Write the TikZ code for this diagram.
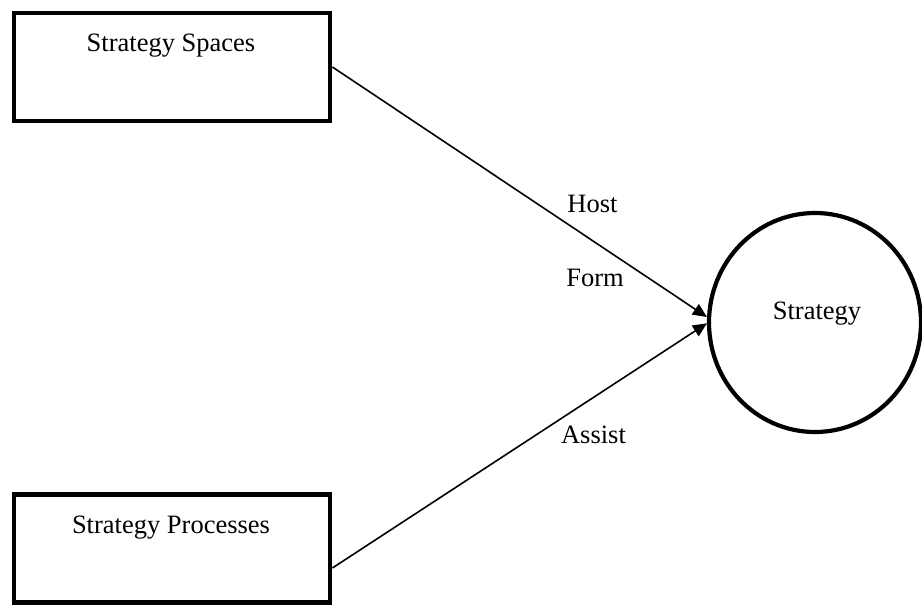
\documentclass[tikz,border=0pt]{standalone}
\usepackage{fontspec}
\setmainfont{Liberation Serif}
\usetikzlibrary{arrows.meta,calc,shapes.geometric}

\tikzset{
  boxnode/.style={draw, line width=4.8pt, rectangle, minimum width=316pt, minimum height=108pt, inner sep=0pt},
  hubnode/.style={draw, line width=4.2pt, ellipse, minimum width=212pt, minimum height=219pt, inner sep=0pt},
  caption/.style={anchor=base, inner sep=0pt, font=\fontsize{26.5}{31}\selectfont},
  link/.style={line width=1.6pt, -{Triangle[length=14pt,width=12.5pt]}}
}

\begin{document}
\begin{tikzpicture}[x=1pt, y=-1pt]
  \useasboundingbox (0,0) rectangle (922,605);

  % the two source boxes and the target circle
  \node[boxnode] (spaces) at (172,67) {};
  \node[boxnode] (processes) at (172,548.5) {};
  \node[hubnode] (strategy) at (815,322.5) {};

  % their titles
  \node[caption] (spacesTxt) at (171,51) {Strategy Spaces};
  \node[caption] (processesTxt) at (171,533) {Strategy Processes};
  \node[caption] (strategyTxt) at (817,319) {Strategy};

  % connectors
  \coordinate (procOut) at ($(processes.east)+(0,19.5)$);
  \coordinate (inTop) at ($(strategy.west)+(0,-5.5)$);
  \coordinate (inBot) at ($(strategy.west)+(0,0.8)$);
  \draw[link] (spaces.east) -- (inTop);
  \draw[link] (procOut) -- (inBot);

  % connector labels
  \node[caption] (host) at (592.5,212) {Host};
  \node[caption] (form) at (595,286) {Form};
  \node[caption] (assist) at (593.5,443) {Assist};
\end{tikzpicture}
\end{document}
